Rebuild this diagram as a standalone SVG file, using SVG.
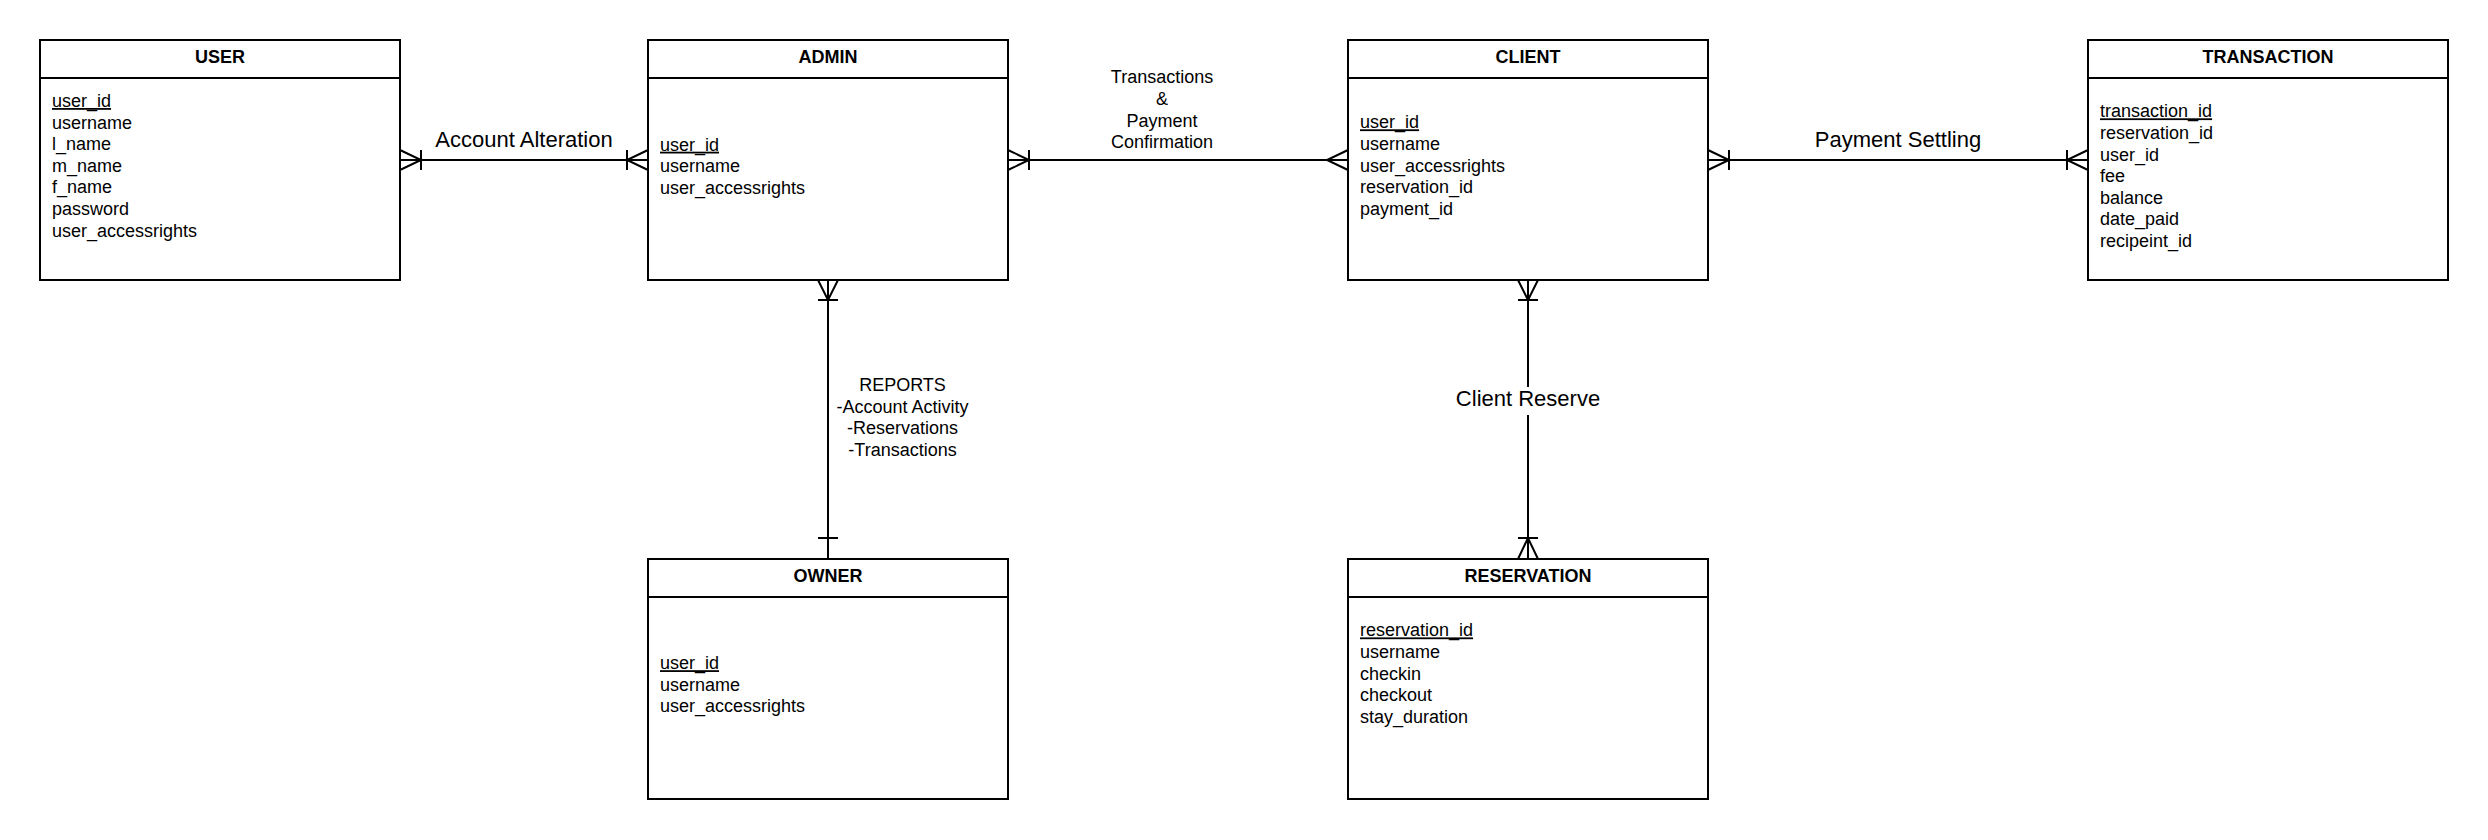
<svg xmlns="http://www.w3.org/2000/svg" width="2488" height="840" viewBox="0 0 2488 840">
<style>
.box{fill:#fff;stroke:#000;stroke-width:2}
.sep{stroke:#000;stroke-width:2}
.hdr{font-family:"Liberation Sans",Arial,sans-serif;font-size:18px;font-weight:bold;text-anchor:middle;fill:#000}
.attr{font-family:"Liberation Sans",Arial,sans-serif;font-size:18px;fill:#000}
.pk{text-decoration:underline}
.lbl{font-family:"Liberation Sans",Arial,sans-serif;font-size:22px;text-anchor:middle;fill:#000}
.lbls{font-family:"Liberation Sans",Arial,sans-serif;font-size:18px;text-anchor:middle;fill:#000}
.con{fill:none;stroke:#000;stroke-width:2}
</style>
<rect width="2488" height="840" fill="#fff"/>
<g id="connectors">
  <path class="con" d="M400,160 H648"/>
  <path class="con" d="M400,150 L421,160 L400,170 M421,150 V170"/>
  <path class="con" d="M648,150 L627,160 L648,170 M627,150 V170"/>
  <path class="con" d="M1008,160 H1348"/>
  <path class="con" d="M1008,150 L1029,160 L1008,170 M1029,150 V170"/>
  <path class="con" d="M1348,150 L1327,160 L1348,170"/>
  <path class="con" d="M1708,160 H2088"/>
  <path class="con" d="M1708,150 L1729,160 L1708,170 M1729,150 V170"/>
  <path class="con" d="M2088,150 L2067,160 L2088,170 M2067,150 V170"/>
  <path class="con" d="M828,280 V559"/>
  <path class="con" d="M818,280 L828,300 L838,280 M818,300 H838"/>
  <path class="con" d="M818,538 H838"/>
  <path class="con" d="M1528,280 V387 M1528,415 V559"/>
  <path class="con" d="M1518,280 L1528,300 L1538,280 M1518,300 H1538"/>
  <path class="con" d="M1518,559 L1528,538 L1538,559 M1518,538 H1538"/>
  <text class="lbl" x="524" y="147">Account Alteration</text>
  <text class="lbls" x="1162" y="83.3">Transactions</text>
  <text class="lbls" x="1162" y="104.9">&amp;</text>
  <text class="lbls" x="1162" y="126.5">Payment</text>
  <text class="lbls" x="1162" y="148.1">Confirmation</text>
  <text class="lbl" x="1898" y="147">Payment Settling</text>
  <text class="lbls" x="902.5" y="391">REPORTS</text>
  <text class="lbls" x="902.5" y="412.6">-Account Activity</text>
  <text class="lbls" x="902.5" y="434.2">-Reservations</text>
  <text class="lbls" x="902.5" y="455.8">-Transactions</text>
  <text class="lbl" x="1528" y="406">Client Reserve</text>
</g>
<g id="user">
  <rect class="box" x="40" y="40" width="360" height="240"/>
  <line class="sep" x1="40" y1="78" x2="400" y2="78"/>
  <text class="hdr" x="220" y="63">USER</text>
  <text class="attr pk" x="52" y="107">user_id</text>
  <text class="attr" x="52" y="128.6">username</text>
  <text class="attr" x="52" y="150.2">l_name</text>
  <text class="attr" x="52" y="171.8">m_name</text>
  <text class="attr" x="52" y="193.4">f_name</text>
  <text class="attr" x="52" y="215">password</text>
  <text class="attr" x="52" y="236.6">user_accessrights</text>
</g>
<g id="admin">
  <rect class="box" x="648" y="40" width="360" height="240"/>
  <line class="sep" x1="648" y1="78" x2="1008" y2="78"/>
  <text class="hdr" x="828" y="63">ADMIN</text>
  <text class="attr pk" x="660" y="150.7">user_id</text>
  <text class="attr" x="660" y="172.3">username</text>
  <text class="attr" x="660" y="193.9">user_accessrights</text>
</g>
<g id="client">
  <rect class="box" x="1348" y="40" width="360" height="240"/>
  <line class="sep" x1="1348" y1="78" x2="1708" y2="78"/>
  <text class="hdr" x="1528" y="63">CLIENT</text>
  <text class="attr pk" x="1360" y="128.3">user_id</text>
  <text class="attr" x="1360" y="149.9">username</text>
  <text class="attr" x="1360" y="171.5">user_accessrights</text>
  <text class="attr" x="1360" y="193.1">reservation_id</text>
  <text class="attr" x="1360" y="214.7">payment_id</text>
</g>
<g id="transaction">
  <rect class="box" x="2088" y="40" width="360" height="240"/>
  <line class="sep" x1="2088" y1="78" x2="2448" y2="78"/>
  <text class="hdr" x="2268" y="63">TRANSACTION</text>
  <text class="attr pk" x="2100" y="117.3">transaction_id</text>
  <text class="attr" x="2100" y="138.9">reservation_id</text>
  <text class="attr" x="2100" y="160.5">user_id</text>
  <text class="attr" x="2100" y="182.1">fee</text>
  <text class="attr" x="2100" y="203.7">balance</text>
  <text class="attr" x="2100" y="225.3">date_paid</text>
  <text class="attr" x="2100" y="246.9">recipeint_id</text>
</g>
<g id="owner">
  <rect class="box" x="648" y="559" width="360" height="240"/>
  <line class="sep" x1="648" y1="597" x2="1008" y2="597"/>
  <text class="hdr" x="828" y="582">OWNER</text>
  <text class="attr pk" x="660" y="669.2">user_id</text>
  <text class="attr" x="660" y="690.8">username</text>
  <text class="attr" x="660" y="712.4">user_accessrights</text>
</g>
<g id="reservation">
  <rect class="box" x="1348" y="559" width="360" height="240"/>
  <line class="sep" x1="1348" y1="597" x2="1708" y2="597"/>
  <text class="hdr" x="1528" y="582">RESERVATION</text>
  <text class="attr pk" x="1360" y="636.4">reservation_id</text>
  <text class="attr" x="1360" y="658">username</text>
  <text class="attr" x="1360" y="679.6">checkin</text>
  <text class="attr" x="1360" y="701.2">checkout</text>
  <text class="attr" x="1360" y="722.8">stay_duration</text>
</g>
</svg>
